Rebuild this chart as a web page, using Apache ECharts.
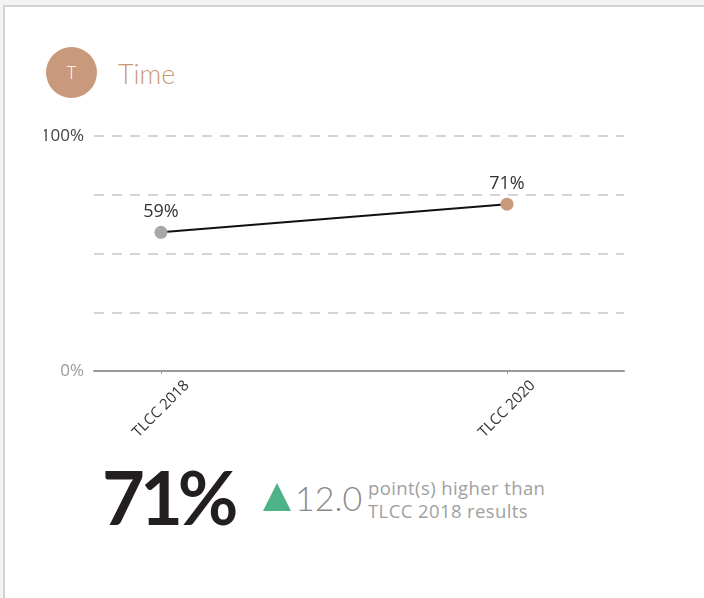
<!DOCTYPE html>
<html>
<head>
<meta charset="utf-8">
<script src="https://cdn.jsdelivr.net/npm/echarts@6/dist/echarts.min.js"></script>
<style>
  html, body { margin: 0; padding: 0; width: 704px; height: 598px; overflow: hidden; background: #f3f3f3; font-family: "Open Sans", Lato, sans-serif; }
  .card { position: absolute; left: 3px; top: 5px; width: 720px; height: 620px; background: #fff; border-left: 2px solid #d3d3d3; border-top: 2px solid #d3d3d3; }
  .badge { position: absolute; left: 46px; top: 47px; width: 51px; height: 51px; border-radius: 50%; background: #c8997a; color: #fff; font-family: Lato, sans-serif; font-size: 17px; line-height: 51px; text-align: center; font-weight: 300; }
  .title { position: absolute; left: 118px; top: 58px; font-family: Lato, sans-serif; font-size: 27px; font-weight: 300; color: #c8997a; line-height: 32px; }
  #chart { position: absolute; left: 44px; top: 100px; width: 620px; height: 360px; }
  .big { position: absolute; left: 102px; top: 452px; font-family: Lato, sans-serif; font-size: 74px; font-weight: 700; color: #231f20; letter-spacing: -5px; line-height: 90px; }
  .tri { position: absolute; left: 263px; top: 483px; width: 0; height: 0; border-left: 14.5px solid transparent; border-right: 14.5px solid transparent; border-bottom: 28px solid #4cb386; }
  .delta { position: absolute; left: 295px; top: 477px; font-family: Lato, sans-serif; font-size: 34px; font-weight: 300; color: #8a8a8a; line-height: 42px; }
  .note { position: absolute; left: 368px; top: 476px; font-size: 18.5px; letter-spacing: 0.4px; color: #a0a0a0; line-height: 23px; font-weight: 400; }
</style>
</head>
<body>
<div class="card"></div>
<div class="badge">T</div>
<div class="title">Time</div>
<div id="chart"></div>
<div class="big">71%</div>
<div class="tri"></div>
<div class="delta">12.0</div>
<div class="note">point(s) higher than<br>TLCC 2018 results</div>
<script>
// Survey waves and their scores (percent)
const categories = ['TLCC 2018', 'TLCC 2020'];
const scores = [59, 71];
const pointColors = ['#a7a8ab', '#c8997a'];
const yTickLabels = { 0: '{lo|0%}', 100: '{hi|100%}' };

const FONT = '"Open Sans", Lato, sans-serif';
const chart = echarts.init(document.getElementById('chart'), null, { renderer: 'canvas' });

const seriesData = scores.map((v, i) => ({
  value: [i, v],
  itemStyle: { color: pointColors[i] }
}));

chart.setOption({
  animation: false,
  grid: { left: 50, top: 36, width: 530, height: 235, containLabel: false, outerBoundsMode: 'none' },
  xAxis: {
    type: 'value',
    min: -0.19364,
    max: 1.33815,
    axisLine: { show: true, lineStyle: { color: '#9a9a9a', width: 2 } },
    axisTick: { show: true, length: 3, customValues: [0, 1], lineStyle: { color: '#9a9a9a', width: 1 } },
    splitLine: { show: false },
    axisLabel: {
      customValues: [0, 1],
      rotate: 45,
      align: 'center',
      verticalAlign: 'middle',
      margin: 38,
      fontSize: 15,
      fontFamily: FONT,
      color: '#333',
      formatter: v => categories[Math.round(v)] || ''
    }
  },
  yAxis: {
    type: 'value',
    min: 0,
    max: 100,
    interval: 25,
    axisLine: { show: false },
    axisTick: { show: false },
    splitLine: { show: true, lineStyle: { color: '#d4d4d4', width: 2, type: [10, 8] } },
    axisLabel: {
      margin: 10,
      fontSize: 17,
      fontFamily: FONT,
      formatter: v => yTickLabels[v] || '',
      rich: {
        lo: { fontSize: 17, fontFamily: FONT, color: '#9a9a9a' },
        hi: { fontSize: 17, fontFamily: FONT, color: '#444' }
      }
    }
  },
  series: [{
    type: 'line',
    data: seriesData,
    symbol: 'circle',
    symbolSize: 13,
    lineStyle: { color: '#111', width: 2 },
    label: {
      show: true,
      position: 'top',
      distance: 5,
      fontSize: 18,
      fontFamily: FONT,
      color: '#333',
      formatter: p => p.value[1] + '%'
    }
  }]
});
</script>
</body>
</html>
